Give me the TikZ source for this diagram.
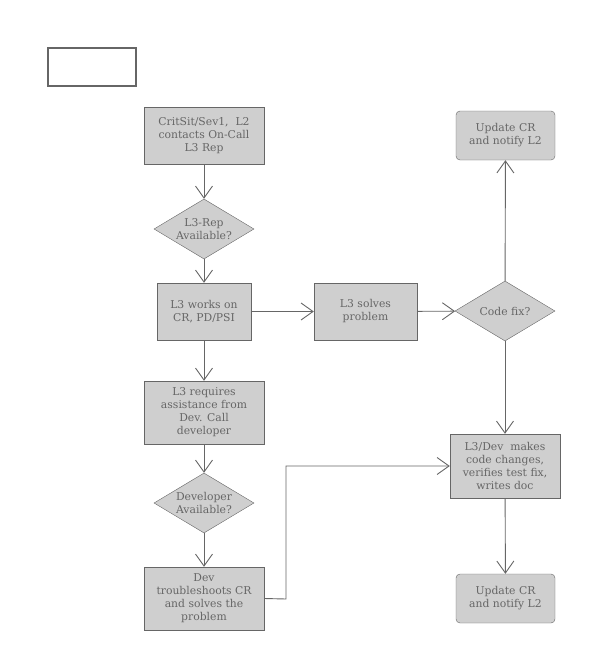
\documentclass[tikz,border=0pt]{standalone}
\usepackage{fontspec}
\setmainfont{DejaVu Serif}
\usetikzlibrary{arrows.meta,shapes.geometric,positioning}
\definecolor{boxfill}{HTML}{CFCFCF}
\definecolor{inkgray}{HTML}{666666}

\begin{document}
\begin{tikzpicture}[x=1pt,y=-1pt,
  every node/.style={font=\fontsize{10.8}{13}\selectfont, text=inkgray, align=center},
  box/.style={draw=inkgray, fill=boxfill, inner sep=0pt},
  endbox/.style={box, rounded corners=4pt},
  decision/.style={draw=inkgray, fill=boxfill, diamond, aspect=1.667,
    inner sep=0pt, minimum width=100pt, minimum height=60pt},
  flow/.style={draw=inkgray, line width=0.9pt,
    -{Straight Barb[length=12pt,width=17pt,line width=0.9pt]}}]
  \useasboundingbox (0,0) rectangle (592,661);
  \draw[inkgray, line width=1.5pt] (48,48) rectangle (136,86);
  % left column
  \node[box, minimum width=120pt, minimum height=57pt] (contact) at (204,135.5)
    {CritSit/Sev1,\ \ L2\\contacts On-Call\\L3 Rep};
  \node[decision] (repavail) at (204,229) {L3-Rep\\Available?};
  \node[box, minimum width=94pt, minimum height=57pt] (works) at (204,311.5)
    {L3 works on\\CR, PD/PSI};
  \node[box, minimum width=120pt, minimum height=63pt] (assist) at (204,412.5)
    {L3 requires\\assistance from\\Dev. Call\\developer};
  \node[decision] (devavail) at (204,503) {Developer\\Available?};
  \node[box, minimum width=120pt, minimum height=63pt] (trouble) at (204,598.5)
    {Dev\\troubleshoots CR\\and solves the\\problem};
  % middle and right
  \node[box, minimum width=103pt, minimum height=57pt] (solves) at (365.5,311.5)
    {L3 solves\\problem};
  \node[decision] (codefix) at (505,311) {Code fix?};
  \node[endbox, minimum width=99pt, minimum height=49pt] (notifytop) at (505.5,135.5)
    {Update CR\\and notify L2};
  \node[box, minimum width=110pt, minimum height=64pt] (changes) at (505,466)
    {L3/Dev\ \ makes\\code changes,\\verifies test fix,\\writes doc};
  \node[endbox, minimum width=99pt, minimum height=49pt] (notifybot) at (505.5,598.5)
    {Update CR\\and notify L2};
  \coordinate (bend) at (286,599);
  % connectors
  \draw[flow] (contact) -- (repavail);
  \draw[flow] (repavail) -- (works);
  \draw[flow] (works) -- (solves);
  \draw[flow] (solves) -- (codefix);
  \draw[flow] (codefix) -- (notifytop);
  \draw[flow] (codefix) -- (changes);
  \draw[flow] (works) -- (assist);
  \draw[flow] (assist) -- (devavail);
  \draw[flow] (devavail) -- (trouble);
  \draw[flow] (trouble.east) -- (bend) |- (changes.west);
  \draw[flow] (changes) -- (notifybot);
\end{tikzpicture}
\end{document}
